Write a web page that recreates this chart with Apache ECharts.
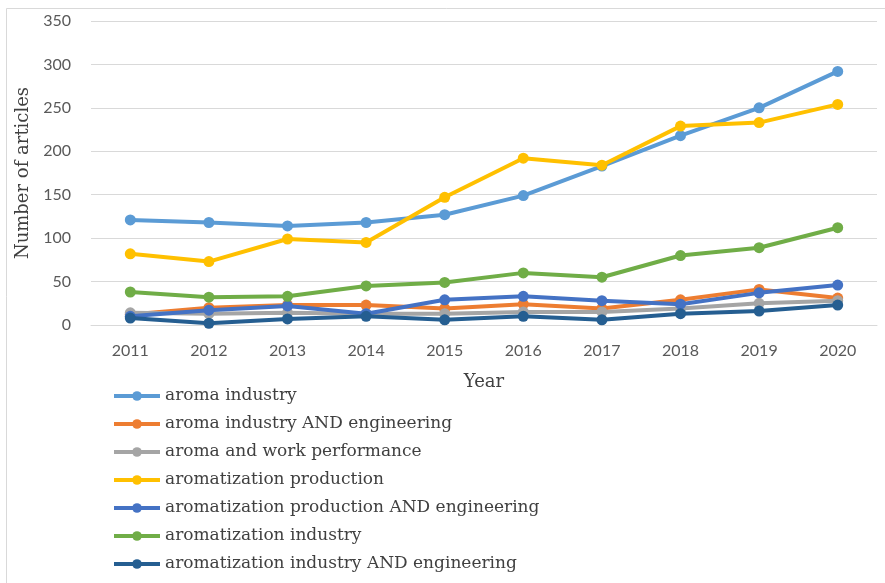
<!DOCTYPE html>
<html>
<head>
<meta charset="utf-8">
<style>
  html, body { margin: 0; padding: 0; background: #ffffff; }
  #chart { width: 885px; height: 583px; }
</style>
<script src="https://cdn.jsdelivr.net/npm/echarts@6/dist/echarts.min.js"></script>
</head>
<body>
<div id="chart"></div>
<script>
// Years on the horizontal axis
const years = ['2011', '2012', '2013', '2014', '2015', '2016', '2017', '2018', '2019', '2020'];

// Number of articles per search query
const aromaIndustry = [121, 118, 114, 118, 127, 149, 183, 218, 250, 292];
const aromaIndustryEng = [12, 20, 23, 23, 19, 24, 19, 29, 41, 31];
const aromaWorkPerformance = [14, 13, 14, 13, 13, 15, 15, 19, 25, 28];
const aromatizationProduction = [82, 73, 99, 95, 147, 192, 184, 229, 233, 254];
const aromatizationProductionEng = [10, 17, 22, 13, 29, 33, 28, 24, 37, 46];
const aromatizationIndustry = [38, 32, 33, 45, 49, 60, 55, 80, 89, 112];
const aromatizationIndustryEng = [8, 2, 7, 10, 6, 10, 6, 13, 16, 23];

const seriesNames = [
  'aroma industry',
  'aroma industry AND engineering',
  'aroma and work performance',
  'aromatization production',
  'aromatization production AND engineering',
  'aromatization industry',
  'aromatization industry AND engineering'
];
const seriesValues = [
  aromaIndustry, aromaIndustryEng, aromaWorkPerformance, aromatizationProduction,
  aromatizationProductionEng, aromatizationIndustry, aromatizationIndustryEng
];
const palette = ['#5B9BD5', '#ED7D31', '#A5A5A5', '#FFC000', '#4472C4', '#70AD47', '#255E91'];

// Value axis ticks
const yMin = 0, yMax = 350, yStep = 50;

const serif = '"Palatino Linotype", "Book Antiqua", "DejaVu Serif", serif';
const sans = 'Lato, "Liberation Sans", sans-serif';

const chart = echarts.init(document.getElementById('chart'), null, { renderer: 'canvas' });

chart.setOption({
  animation: false,
  backgroundColor: '#ffffff',
  color: palette,
  graphic: [{
    type: 'rect',
    shape: { x: 6.5, y: 8.5, width: 900, height: 600 },
    style: { fill: 'none', stroke: '#d9d9d9', lineWidth: 1 },
    silent: true
  }],
  grid: { left: 91, right: 8, top: 21, bottom: 258, containLabel: false },
  xAxis: {
    type: 'category',
    data: years,
    boundaryGap: true,
    name: 'Year',
    nameLocation: 'middle',
    nameGap: 48,
    nameTextStyle: { fontFamily: serif, fontSize: 18, color: '#404040' },
    axisLine: { show: true, lineStyle: { color: '#d9d9d9', width: 1 } },
    axisTick: { show: false },
    axisLabel: { fontFamily: sans, fontSize: 16, color: '#595959', margin: 18 }
  },
  yAxis: {
    type: 'value',
    min: yMin,
    max: yMax,
    interval: yStep,
    name: 'Number of articles',
    nameLocation: 'middle',
    nameGap: 58,
    nameTextStyle: { fontFamily: serif, fontSize: 18, color: '#404040' },
    axisLine: { show: false },
    axisTick: { show: false },
    axisLabel: { fontFamily: sans, fontSize: 16, color: '#595959', margin: 20 },
    splitLine: { lineStyle: { color: '#d9d9d9', width: 1 } }
  },
  legend: {
    orient: 'vertical',
    left: 107,
    top: 382,
    itemWidth: 46,
    itemHeight: 12,
    itemGap: 10,
    lineStyle: { width: 4 },
    textStyle: { fontFamily: serif, fontSize: 17, color: '#404040', lineHeight: 18 },
    data: seriesNames
  },
  series: seriesNames.map(function (name, i) {
    return {
      name: name,
      type: 'line',
      data: seriesValues[i],
      symbol: 'circle',
      symbolSize: 11,
      lineStyle: { width: 4, color: palette[i] },
      itemStyle: { color: palette[i] },
      z: 2 + i
    };
  })
});
</script>
</body>
</html>
